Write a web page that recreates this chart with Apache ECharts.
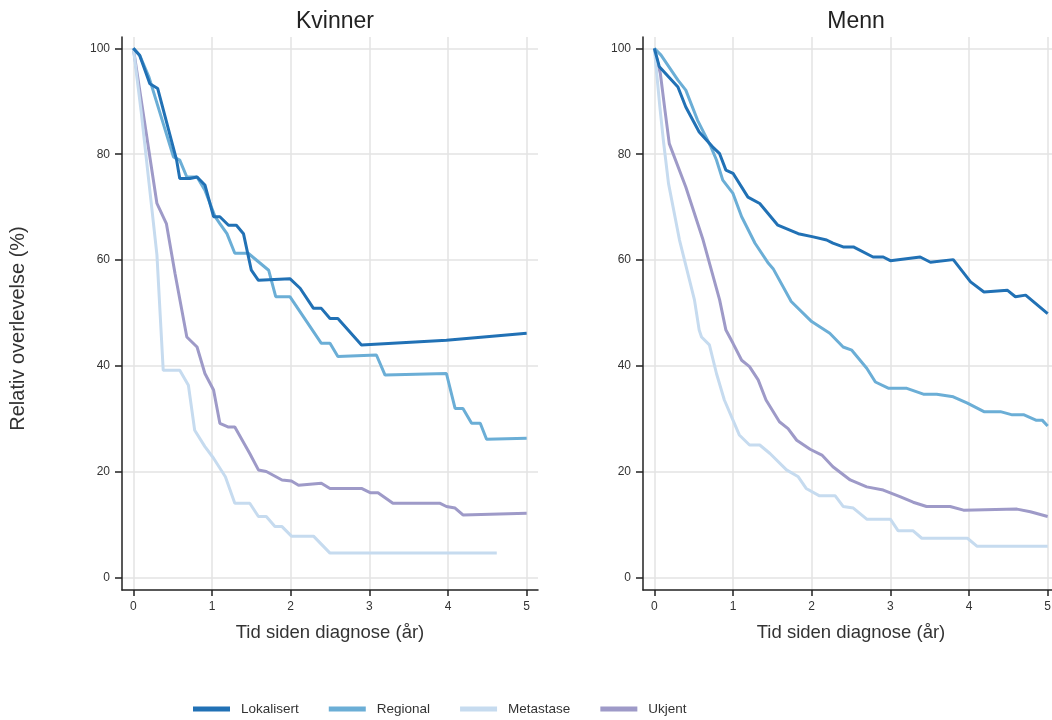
<!DOCTYPE html>
<html>
<head>
<meta charset="utf-8">
<script src="https://cdn.jsdelivr.net/npm/echarts@6/dist/echarts.min.js"></script>
<style>
  html, body { margin: 0; padding: 0; background: #fff; }
  #chart { width: 1052px; height: 720px; }
</style>
</head>
<body>
<div id="chart"></div>
<script>
const panels = ['Kvinner', 'Menn']
const stages = ['Lokalisert', 'Regional', 'Metastase', 'Ukjent']
const xTicks = [0, 1, 2, 3, 4, 5]
const yTicks = [0, 20, 40, 60, 80, 100]

// [år, relativ overlevelse %]
const kvLokalisert = [[0,100],[0.08,98.7],[0.21,93.3],[0.31,92.4],[0.55,78.9],[0.59,75.4],[0.72,75.4],[0.81,75.7],[0.91,74.2],[1.02,68.2],[1.10,68.2],[1.21,66.6],[1.31,66.6],[1.40,65.0],[1.50,58.1],[1.59,56.2],[1.99,56.5],[2.12,54.7],[2.29,50.9],[2.39,50.9],[2.50,49.0],[2.60,49.0],[2.90,44.0],[3.98,44.9],[5.0,46.2]]
const kvRegional = [[0,100],[0.08,98.7],[0.2,94.5],[0.51,79.5],[0.59,78.9],[0.68,75.7],[0.81,75.7],[0.91,73.2],[1.04,68.2],[1.10,66.9],[1.19,65.0],[1.29,61.3],[1.46,61.3],[1.72,58.1],[1.81,53.1],[1.99,53.1],[2.39,44.3],[2.50,44.3],[2.60,41.8],[3.09,42.1],[3.20,38.3],[3.98,38.6],[4.09,32.0],[4.19,32.0],[4.30,29.2],[4.41,29.2],[4.49,26.2],[5.0,26.4]]
const kvMetastase = [[0,100],[0.1,88],[0.2,74.5],[0.30,61],[0.38,39.2],[0.59,39.2],[0.70,36.4],[0.78,27.9],[0.91,24.8],[1.02,22.6],[1.17,19.1],[1.29,14.1],[1.48,14.1],[1.59,11.6],[1.69,11.6],[1.80,9.7],[1.89,9.7],[2.01,7.9],[2.29,7.9],[2.50,4.7],[4.62,4.7]]
const kvUkjent = [[0,100],[0.30,70.7],[0.42,66.9],[0.53,57.5],[0.68,45.5],[0.81,43.6],[0.91,38.6],[1.02,35.5],[1.10,29.2],[1.21,28.5],[1.29,28.5],[1.48,23.5],[1.59,20.4],[1.69,20.1],[1.89,18.5],[2.01,18.3],[2.10,17.5],[2.39,17.9],[2.50,16.9],[2.90,16.9],[3.01,16.1],[3.11,16.1],[3.30,14.1],[3.90,14.1],[3.98,13.5],[4.09,13.2],[4.19,11.9],[5.0,12.2]]

const mnLokalisert = [[0,100],[0.064,96.5],[0.30,92.7],[0.40,88.9],[0.57,84.2],[0.74,81.4],[0.83,80.1],[0.91,77.0],[1.0,76.4],[1.19,71.9],[1.34,70.7],[1.57,66.6],[1.83,65.0],[2.02,64.4],[2.19,63.8],[2.27,63.2],[2.40,62.5],[2.53,62.5],[2.78,60.6],[2.91,60.6],[3.0,59.9],[3.38,60.6],[3.51,59.6],[3.80,60.1],[4.02,55.9],[4.19,54.0],[4.49,54.3],[4.59,53.1],[4.72,53.4],[5.0,49.9]]
const mnRegional = [[0,100],[0.085,98.7],[0.30,94.0],[0.40,92.1],[0.55,86.4],[0.72,81.4],[0.79,78.9],[0.87,75.1],[1.0,72.6],[1.11,68.2],[1.28,63.2],[1.45,59.4],[1.51,58.4],[1.74,52.2],[2.0,48.4],[2.23,46.2],[2.40,43.6],[2.51,43.0],[2.70,39.6],[2.81,37.0],[2.98,35.8],[3.21,35.8],[3.42,34.7],[3.59,34.7],[3.80,34.2],[3.98,33.0],[4.19,31.4],[4.40,31.4],[4.55,30.8],[4.70,30.8],[4.85,29.8],[4.93,29.8],[5.0,28.7]]
const mnMetastase = [[0,100],[0.07,89],[0.115,82.6],[0.18,74.5],[0.32,63.8],[0.51,52.5],[0.57,46.8],[0.60,45.5],[0.70,44.0],[0.79,38.6],[0.89,33.6],[1.08,27.0],[1.21,25.1],[1.34,25.1],[1.47,23.5],[1.68,20.4],[1.83,19.1],[1.93,16.9],[2.10,15.5],[2.30,15.5],[2.40,13.5],[2.53,13.2],[2.70,11.1],[3.0,11.1],[3.10,8.9],[3.29,8.9],[3.40,7.5],[3.98,7.5],[4.10,6.0],[5.0,6.0]]
const mnUkjent = [[0,100],[0.077,95.2],[0.13,88.9],[0.19,82.0],[0.40,73.8],[0.62,63.8],[0.83,52.5],[0.91,46.8],[1.0,44.3],[1.11,41.1],[1.21,39.9],[1.32,37.4],[1.42,33.6],[1.59,29.5],[1.70,28.2],[1.81,26.0],[1.98,24.3],[2.13,23.2],[2.27,21.0],[2.49,18.5],[2.70,17.2],[2.91,16.6],[3.13,15.3],[3.29,14.3],[3.46,13.5],[3.76,13.5],[3.93,12.8],[4.61,13.0],[4.78,12.5],[5.0,11.6]]

const colors = ['#2171b5', '#6baed6', '#c6dbef', '#9e9ac8']
const panelData = [
  [kvLokalisert, kvRegional, kvMetastase, kvUkjent],
  [mnLokalisert, mnRegional, mnMetastase, mnUkjent]
]

const font = 'Liberation Sans, Arial, sans-serif'
const gridLefts = [122, 643]

const chart = echarts.init(document.getElementById('chart'))

function xAxis(i) {
  return {
    type: 'value',
    gridIndex: i,
    min: -0.144,
    max: 5.144,
    name: 'Tid siden diagnose (år)',
    nameLocation: 'middle',
    nameGap: 33,
    nameTextStyle: { fontFamily: font, fontSize: 18.5, color: '#333' },
    axisLine: { onZero: false, lineStyle: { color: '#222', width: 1.5 } },
    axisTick: { customValues: xTicks, length: 6, lineStyle: { color: '#222', width: 1.5 } },
    axisLabel: { customValues: xTicks, margin: 11, fontFamily: font, fontSize: 12, color: '#333' },
    splitLine: { show: true, lineStyle: { color: '#e3e3e3', width: 1.5 } }
  }
}

function yAxis(i) {
  return {
    type: 'value',
    gridIndex: i,
    min: -2.27,
    max: 102.13,
    name: i === 0 ? 'Relativ overlevelse (%)' : '',
    nameLocation: 'middle',
    nameGap: 94,
    nameTextStyle: { fontFamily: font, fontSize: 20, color: '#333', padding: [0, 30, 0, 0] },
    axisLine: { show: true, onZero: false, lineStyle: { color: '#222', width: 1.5 } },
    axisTick: { show: true, customValues: yTicks, length: 7, lineStyle: { color: '#222', width: 1.5 } },
    axisLabel: { customValues: yTicks, margin: 12, fontFamily: font, fontSize: 12, color: '#333' },
    splitLine: { show: true, lineStyle: { color: '#e3e3e3', width: 1.5 } }
  }
}

const series = []
panelData.forEach((lines, p) => {
  lines.forEach((data, s) => {
    series.push({
      name: stages[s],
      type: 'line',
      xAxisIndex: p,
      yAxisIndex: p,
      data: data,
      showSymbol: false,
      symbol: 'none',
      color: colors[s],
      lineStyle: { color: colors[s], width: 3 },
      z: 10 - s
    })
  })
})

chart.setOption({
  animation: false,
  title: panels.map((t, i) => ({
    text: t,
    left: gridLefts[i] + 208,
    top: 5,
    textAlign: 'center',
    textStyle: { fontFamily: font, fontSize: 23, fontWeight: 'normal', color: '#222' }
  })),
  legend: {
    data: stages,
    left: 188,
    top: 697,
    icon: 'rect',
    itemWidth: 37,
    itemHeight: 5,
    itemGap: 30,
    textStyle: { fontFamily: font, fontSize: 13.5, color: '#333', padding: [0, 0, 0, 6] }
  },
  grid: gridLefts.map(l => ({ left: l, top: 37, width: 416, height: 553, outerBoundsMode: 'none' })),
  xAxis: [xAxis(0), xAxis(1)],
  yAxis: [yAxis(0), yAxis(1)],
  series: series
})
</script>
</body>
</html>
